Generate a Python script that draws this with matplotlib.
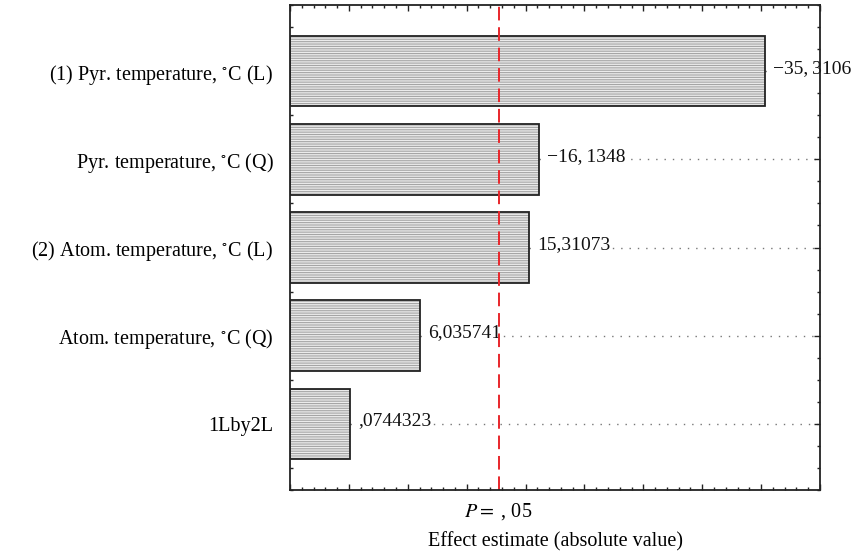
import numpy as np
import matplotlib.pyplot as plt
from matplotlib.ticker import MultipleLocator, NullFormatter

plt.rcParams['font.family'] = ['Liberation Serif', 'DejaVu Serif']
plt.rcParams['mathtext.fontset'] = 'stix'
plt.rcParams['hatch.linewidth'] = 0.8

factors = ["(1) Pyr. temperature, $^{\\circ}$C (L)",
           "Pyr. temperature, $^{\\circ}$C (Q)",
           "(2) Atom. temperature, $^{\\circ}$C (L)",
           "Atom. temperature, $^{\\circ}$C (Q)",
           "1Lby2L"]
effects = [-35.3106, -16.1348, 15.31073, 6.035741, 0.0744323]
effect_labels = ["\u221235,\u20093106", "\u221216,\u20091348", "15,31073", "6,035741", ",0744323"]
p_crit = 12.706

x0, x1 = -5, 40
ypos = np.arange(len(factors))
absval = np.abs(effects)
fs = 14.5

fig = plt.figure(figsize=(8.57, 5.56), dpi=100)
ax = fig.add_axes([290/857, 1 - 490/556, 530/857, 485/556])

# hatched fill, then black outline
ax.barh(ypos, absval - x0, left=x0, height=0.8, color='#ececec',
        edgecolor='#a5a5a5', hatch='-------', lw=0, zorder=2)
ax.barh(ypos, absval - x0, left=x0, height=0.8, fill=False,
        edgecolor='#222222', lw=1.3, zorder=3)

for y, v, lab in zip(ypos, absval, effect_labels):
    ax.plot([v, x1], [y, y], ls=(0, (1, 5)), color='#777777', lw=1.0, zorder=1)
    ax.annotate(lab, (v, y), xytext=(6, 2), textcoords='offset points',
                ha='left', va='center', fontsize=14, color='#111111',
                bbox=dict(fc='white', ec='none', pad=0.3), zorder=4)

ax.axvline(p_crit, color='#e8262b', ls=(0, (7, 3.5)), lw=1.4, zorder=5)
ax.text(p_crit, -0.022, "$P=$ , 05", transform=ax.get_xaxis_transform(),
        ha='center', va='top', fontsize=fs)

ax.set_xlim(x0, x1)
ax.set_ylim(len(factors) - 0.25, -0.75)
ax.set_yticks(ypos)
ax.set_yticklabels(factors, fontsize=fs)
ax.yaxis.set_minor_locator(MultipleLocator(0.25))
ax.xaxis.set_major_locator(MultipleLocator(5))
ax.xaxis.set_minor_locator(MultipleLocator(1))
ax.xaxis.set_major_formatter(NullFormatter())
ax.tick_params(axis='both', which='both', direction='in', top=True, right=True,
               color='#222222')
ax.tick_params(axis='x', which='major', length=4, width=1)
ax.tick_params(axis='x', which='minor', length=2.5, width=1)
ax.tick_params(axis='y', which='major', length=4, width=1, pad=12)
ax.tick_params(axis='y', which='minor', length=2.5, width=1)
for s in ax.spines.values():
    s.set_linewidth(1.3)
    s.set_color('#222222')
    s.set_zorder(6)

ax.set_xlabel("Effect estimate (absolute value)", fontsize=fs, labelpad=27)

fig.savefig("out.png", dpi=100)
